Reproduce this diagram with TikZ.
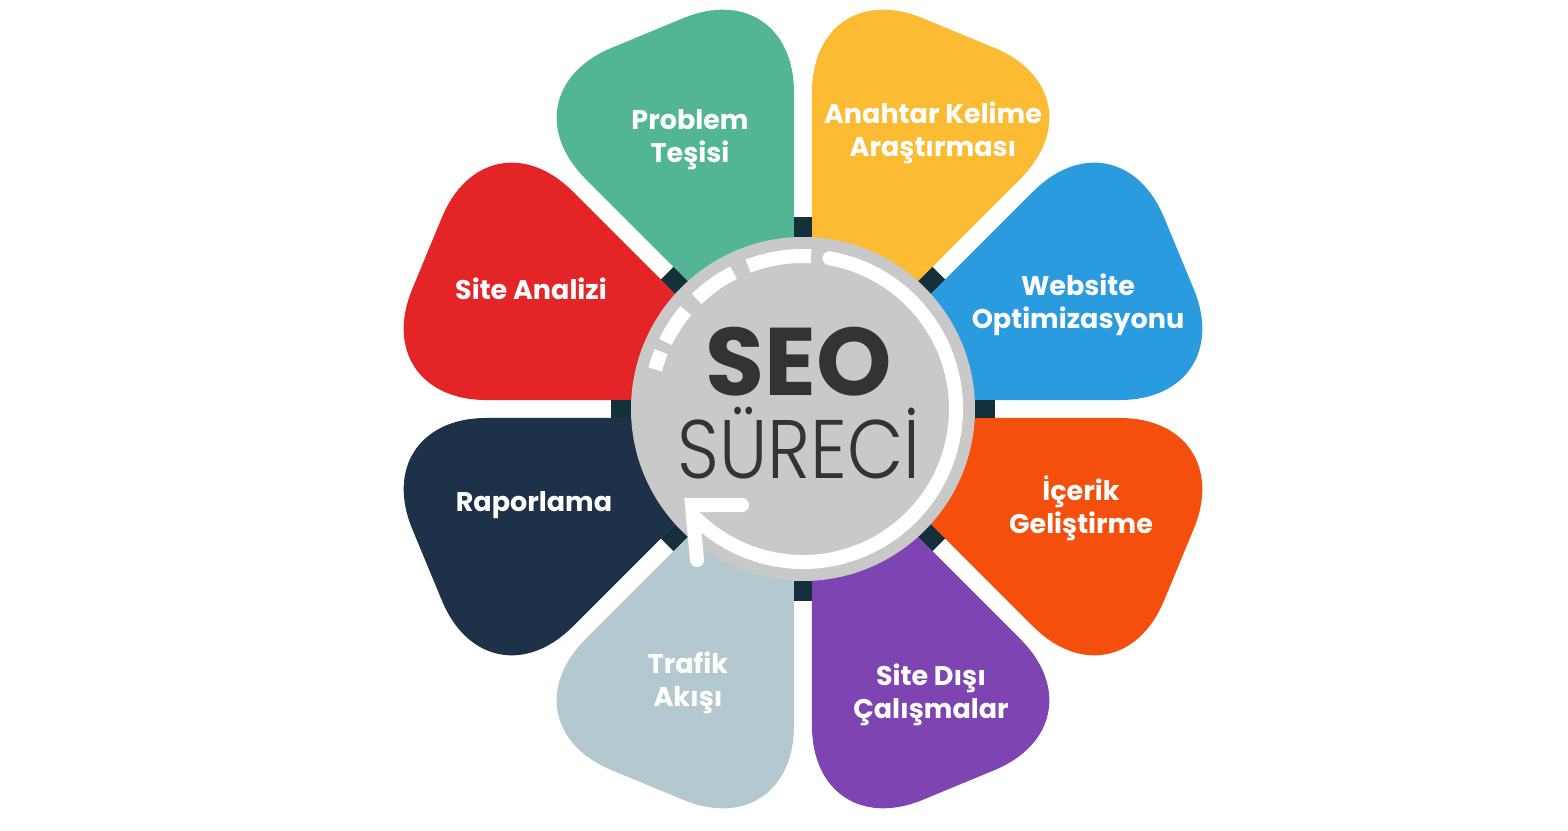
\documentclass[tikz,border=0pt]{standalone}
\usepackage{fontspec}
\setmainfont{Poppins}
\newfontfamily\seolight{Poppins}[UprightFont=* Light]
\usepackage{tikz}

\definecolor{seoGreen}{HTML}{52B694}
\definecolor{seoYellow}{HTML}{FBBC33}
\definecolor{seoBlue}{HTML}{2B9BE0}
\definecolor{seoOrange}{HTML}{F54F0E}
\definecolor{seoPurple}{HTML}{7E44B2}
\definecolor{seoMist}{HTML}{B4C9CF}
\definecolor{seoNavy}{HTML}{1D3248}
\definecolor{seoRed}{HTML}{E42528}
\definecolor{seoMark}{HTML}{14303A}
\definecolor{seoDisc}{HTML}{C9C9C9}
\definecolor{seoInk}{HTML}{333333}

\tikzset{
    petal/.style={
      rounded corners=120pt,
    },
    petaltext/.style={
      text=white,
      font=\bfseries\fontsize{27}{33}\selectfont,
      align=center,
      inner sep=0pt,
    },
    gapmark/.style={
      draw=seoMark, line width=18pt,
    },
    loopline/.style={
      draw=white, line width=14pt,
    },
}

\begin{document}
\begin{tikzpicture}[x=1pt,y=1pt]

    \useasboundingbox (-803,-421) rectangle (765,409);
    \fill[white] (-803,-421) rectangle (765,409);

    % petals, one per 45 degree sector
    \fill[petal, fill=seoBlue]               (22.5:23.5) -- +(0:415) -- +(45:415) -- cycle;
    \fill[petal, fill=seoYellow, rotate=45]  (22.5:23.5) -- +(0:415) -- +(45:415) -- cycle;
    \fill[petal, fill=seoGreen,  rotate=90]  (22.5:23.5) -- +(0:415) -- +(45:415) -- cycle;
    \fill[petal, fill=seoRed,    rotate=135] (22.5:23.5) -- +(0:415) -- +(45:415) -- cycle;
    \fill[petal, fill=seoNavy,   rotate=180] (22.5:23.5) -- +(0:415) -- +(45:415) -- cycle;
    \fill[petal, fill=seoMist,   rotate=225] (22.5:23.5) -- +(0:415) -- +(45:415) -- cycle;
    \fill[petal, fill=seoPurple, rotate=270] (22.5:23.5) -- +(0:415) -- +(45:415) -- cycle;
    \fill[petal, fill=seoOrange, rotate=315] (22.5:23.5) -- +(0:415) -- +(45:415) -- cycle;

    % dark marks in the gaps
    \draw[gapmark] (0:160)   -- (0:192);
    \draw[gapmark] (45:160)  -- (45:192);
    \draw[gapmark] (90:160)  -- (90:192);
    \draw[gapmark] (135:160) -- (135:192);
    \draw[gapmark] (180:160) -- (180:192);
    \draw[gapmark] (225:160) -- (225:192);
    \draw[gapmark] (270:160) -- (270:192);
    \draw[gapmark] (315:160) -- (315:192);

    % centre disc
    \fill[seoDisc] (0,0) circle[radius=172];

    \draw[loopline, line cap=round] (80:153) arc[start angle=80, end angle=-134, radius=153];
    \draw[loopline] (87:153)  arc[start angle=87,  end angle=111, radius=153];
    \draw[loopline] (117:153) arc[start angle=117, end angle=134, radius=153];
    \draw[loopline] (140:153) arc[start angle=140, end angle=154, radius=153];
    \draw[loopline] (158:153) arc[start angle=158, end angle=165, radius=153];

    \coordinate (tip) at (-111,-96);
    \draw[loopline, line cap=round, line join=miter] (tip) ++(50,0) -- (tip) -- ++(5,-55);

    \node[anchor=base, text=seoInk, font=\bfseries\fontsize{96}{96}\selectfont, inner sep=0pt] (seo) at (-4,14) {SEO};
    \node[anchor=base, text=seoInk, font=\seolight\fontsize{83}{83}\selectfont, inner sep=0pt, xscale=0.88] (surec) at (-4,-69) {SÜRECİ};

    % petal labels
    \node[petaltext] (teshis)   at (-113,269) {Problem\\Teşisi};
    \node[petaltext] (anahtar)  at (130,276)  {Anahtar Kelime\\Araştırması};
    \node[petaltext] (website)  at (275,104)  {Website\\Optimizasyonu};
    \node[petaltext] (icerik)   at (278,-99)  {İçerik\\Geliştirme};
    \node[petaltext] (disi)     at (128,-286) {Site Dışı\\Çalışmalar};
    \node[petaltext] (trafik)   at (-115,-274) {Trafik\\Akışı};
    \node[petaltext] (rapor)    at (-269,-96) {Raporlama};
    \node[petaltext] (analiz)   at (-272,120) {Site Analizi};

\end{tikzpicture}
\end{document}
